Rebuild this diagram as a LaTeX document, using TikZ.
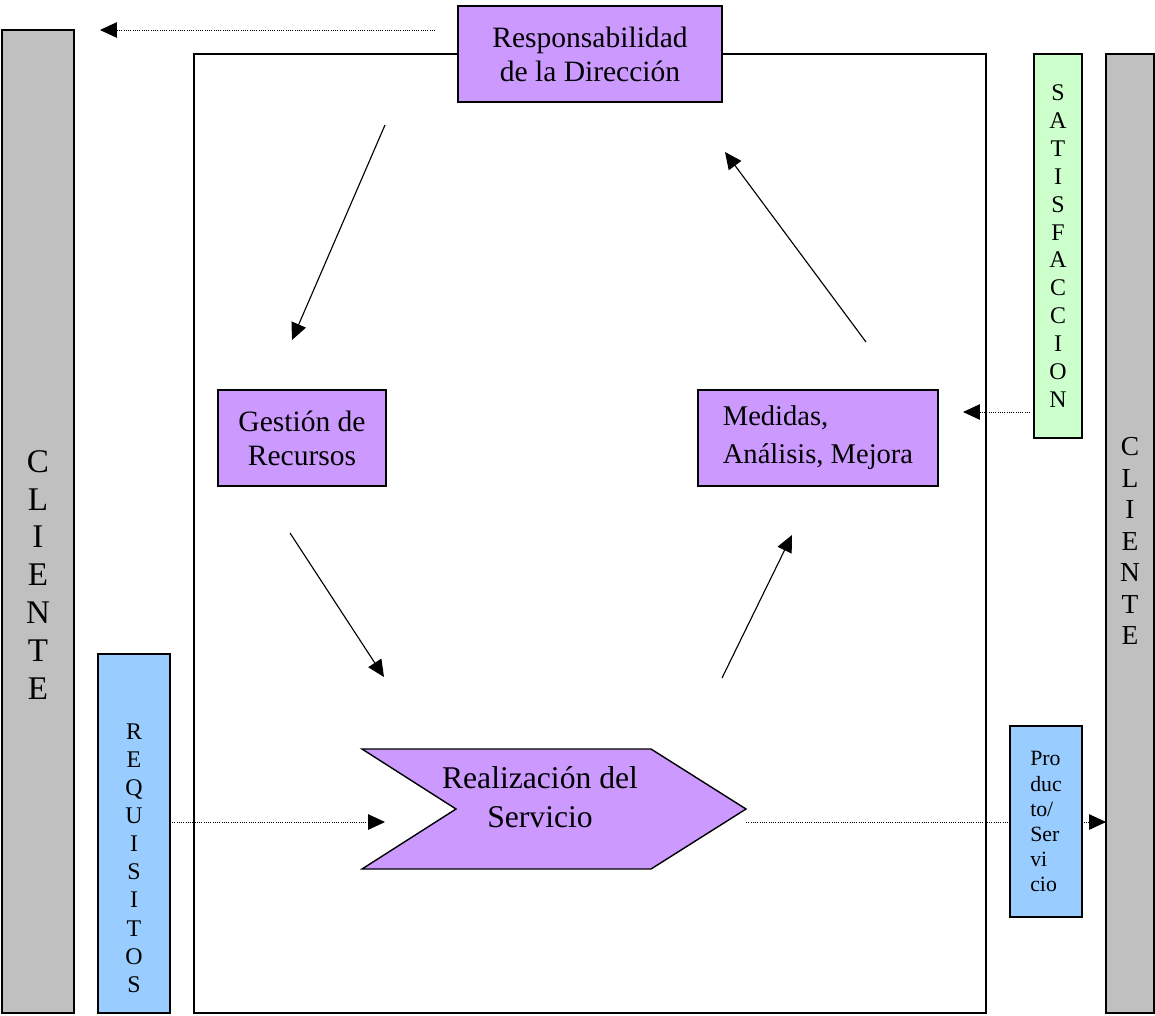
\documentclass[tikz,border=0pt]{standalone}
\usepackage{fontspec}
\setmainfont{Liberation Serif}
\usetikzlibrary{arrows.meta}

\definecolor{lila}{HTML}{CC99FF}
\definecolor{gris}{HTML}{C0C0C0}
\definecolor{verde}{HTML}{CCFFCC}
\definecolor{celeste}{HTML}{99CCFF}

\tikzset{
    caja/.style={draw=black, line width=1pt, inner sep=0pt},
    flecha/.style={line width=0.8pt, -{Triangle[length=12pt,width=11pt]}},
    punteada/.style={densely dotted, line width=0.6pt, -{Triangle[length=12pt,width=11pt]}},
    texto/.style={font=\fontsize{21}{24.2}\selectfont, align=center}
}

\begin{document}
\begin{tikzpicture}[x=0.025cm, y=-0.025cm]
            \useasboundingbox (0,0) rectangle (1155,1015);

            % marco del sistema
            \draw[line width=1pt] (194,54) rectangle (986,1013);

            % columnas del cliente
            \node[caja, fill=gris, minimum width=1.8cm, minimum height=24.575cm] (clienteL) at (38,521.5) {};
            \node[align=center, font=\fontsize{23.5}{27}\selectfont] (clienteLtxt) at (38,575) {C\\L\\I\\E\\N\\T\\E};
            \node[caja, fill=gris, minimum width=1.2cm, minimum height=23.975cm] (clienteR) at (1130,533.5) {};
            \node[align=center, font=\fontsize{19.5}{22.4}\selectfont] (clienteRtxt) at (1130,541) {C\\L\\I\\E\\N\\T\\E};

            \node[caja, fill=verde, minimum width=1.2cm, minimum height=9.6cm, align=center,
                  font=\fontsize{17}{19.8}\selectfont] (satis) at (1058,246)
                  {S\\A\\T\\I\\S\\F\\A\\C\\C\\I\\O\\N};

            \node[caja, fill=celeste, minimum width=1.8cm, minimum height=8.975cm] (requi) at (134,833.5) {};
            \node[align=center, font=\fontsize{17}{20}\selectfont] (requitxt) at (134,858) {R\\E\\Q\\U\\I\\S\\I\\T\\O\\S};

            % procesos
            \node[caja, fill=lila, minimum width=6.6cm, minimum height=2.4cm, texto] (resp) at (590,54)
                  {Responsabilidad\\de la Dirección};
            \node[caja, fill=lila, minimum width=4.2cm, minimum height=2.4cm, texto] (gest) at (302,438)
                  {Gestión de\\Recursos};
            \node[caja, fill=lila, minimum width=6cm, minimum height=2.4cm, texto, align=left,
                  font=\fontsize{20.3}{27}\selectfont] (medi) at (818,438)
                  {Medidas,\\Análisis, Mejora};

            \filldraw[fill=lila, line width=1pt] (362,749) -- (651,749) -- (746,809) -- (651,869)
                  -- (362,869) -- (456,809) -- cycle;
            \node[texto, font=\fontsize{22.5}{27.7}\selectfont] (real) at (540,797) {Realización del\\Servicio};

            % ciclo
            \coordinate (c1) at (385,125);  \coordinate (c2) at (292,340);
            \coordinate (c3) at (290,533);  \coordinate (c4) at (384,677);
            \coordinate (c5) at (722,678);  \coordinate (c6) at (792,535);
            \coordinate (c7) at (866,342);  \coordinate (c8) at (725,152);
            \draw[flecha] (c1) -- (c2);
            \draw[flecha] (c3) -- (c4);
            \draw[flecha] (c5) -- (c6);
            \draw[flecha] (c7) -- (c8);

            % flujos de informacion
            \coordinate (p1) at (435,30);   \coordinate (p2) at (100,30);
            \coordinate (p3) at (1030,412); \coordinate (p4) at (963,412);
            \coordinate (p5) at (172,822);  \coordinate (p6) at (385,822);
            \coordinate (p7) at (746,822);  \coordinate (p8) at (1106,822);
            \draw[punteada] (p1) -- (p2);
            \draw[punteada] (p3) -- (p4);
            \draw[punteada] (p5) -- (p6);
            \draw[punteada] (p7) -- (p8);

            \node[caja, fill=celeste, minimum width=1.8cm, minimum height=4.775cm, align=left,
                  font=\fontsize{15.5}{17.8}\selectfont] (prod) at (1046,821.5)
                  {Pro\\duc\\to/\\Ser\\vi\\cio};
        \end{tikzpicture}
\end{document}
